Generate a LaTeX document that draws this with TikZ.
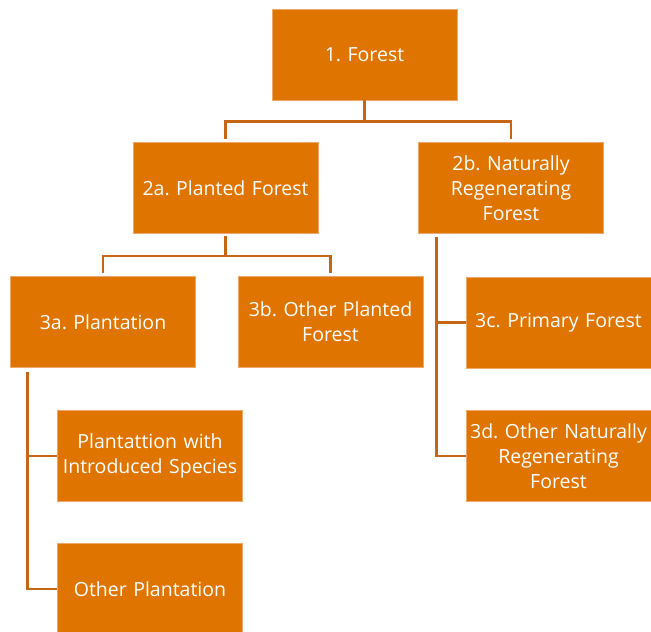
\documentclass[tikz,border=0pt]{standalone}
\usepackage{fontspec}
\setmainfont{Open Sans}
\frenchspacing
\definecolor{boxfill}{RGB}{223,116,0}
\definecolor{boxedge}{RGB}{240,168,104}
\definecolor{conn}{RGB}{198,102,20}
\begin{document}
\begin{tikzpicture}[x=1pt,y=-1pt,
  box/.style={rectangle, fill=boxfill, draw=boxedge, line width=0.6pt,
    minimum width=185pt, minimum height=91pt, text width=183pt, align=center,
    text=white, font=\fontsize{19.5}{25}\selectfont, inner sep=0pt},
  link/.style={draw=conn, line width=2.6pt}]
\useasboundingbox (0,0) rectangle (651,632);
\node[box] (f1)  at (364.5,54.5) {1. Forest};
\node[box] (f2a) at (225.5,188) {2a. Planted Forest};
\node[box] (f2b) at (511,188) {2b. Naturally\\Regenerating\\Forest};
\node[box] (f3a) at (103,322) {3a. Plantation};
\node[box] (f3b) at (330.5,322) {3b. Other Planted\\Forest};
\node[box] (f3c) at (558.5,322.5) {3c. Primary Forest};
\node[box] (f3d) at (558.5,456) {3d. Other Naturally\\Regenerating\\Forest};
\node[box] (p1)  at (150,456) {Plantattion with\\Introduced Species};
\node[box] (p2)  at (150,589) {Other Plantation};
% level 1 -> 2
\draw[link] (f1.south) -- ++(0,21) coordinate (j1);
\draw[link] ([yshift=3pt]f2a.north) |- (j1) -| ([yshift=3pt]f2b.north);
% 2a -> 3a, 3b
\draw[link] ([yshift=-2pt]f2a.south) -- ++(0,20) coordinate (j2);
\draw[link] ([yshift=3pt]f3a.north) |- (j2) -| ([yshift=3pt]f3b.north);
% 2b -> 3c, 3d
\coordinate (v2) at ([xshift=18.5pt,yshift=-3pt]f2b.south west);
\draw[link] (v2) |- (f3d.west);
\draw[link] (v2 |- f3c.west) -- (f3c.west);
% 3a -> plantations
\coordinate (v3) at ([xshift=17.5pt,yshift=-4pt]f3a.south west);
\draw[link] (v3) |- (p2.west);
\draw[link] (v3 |- p1.west) -- (p1.west);
\end{tikzpicture}
\end{document}
